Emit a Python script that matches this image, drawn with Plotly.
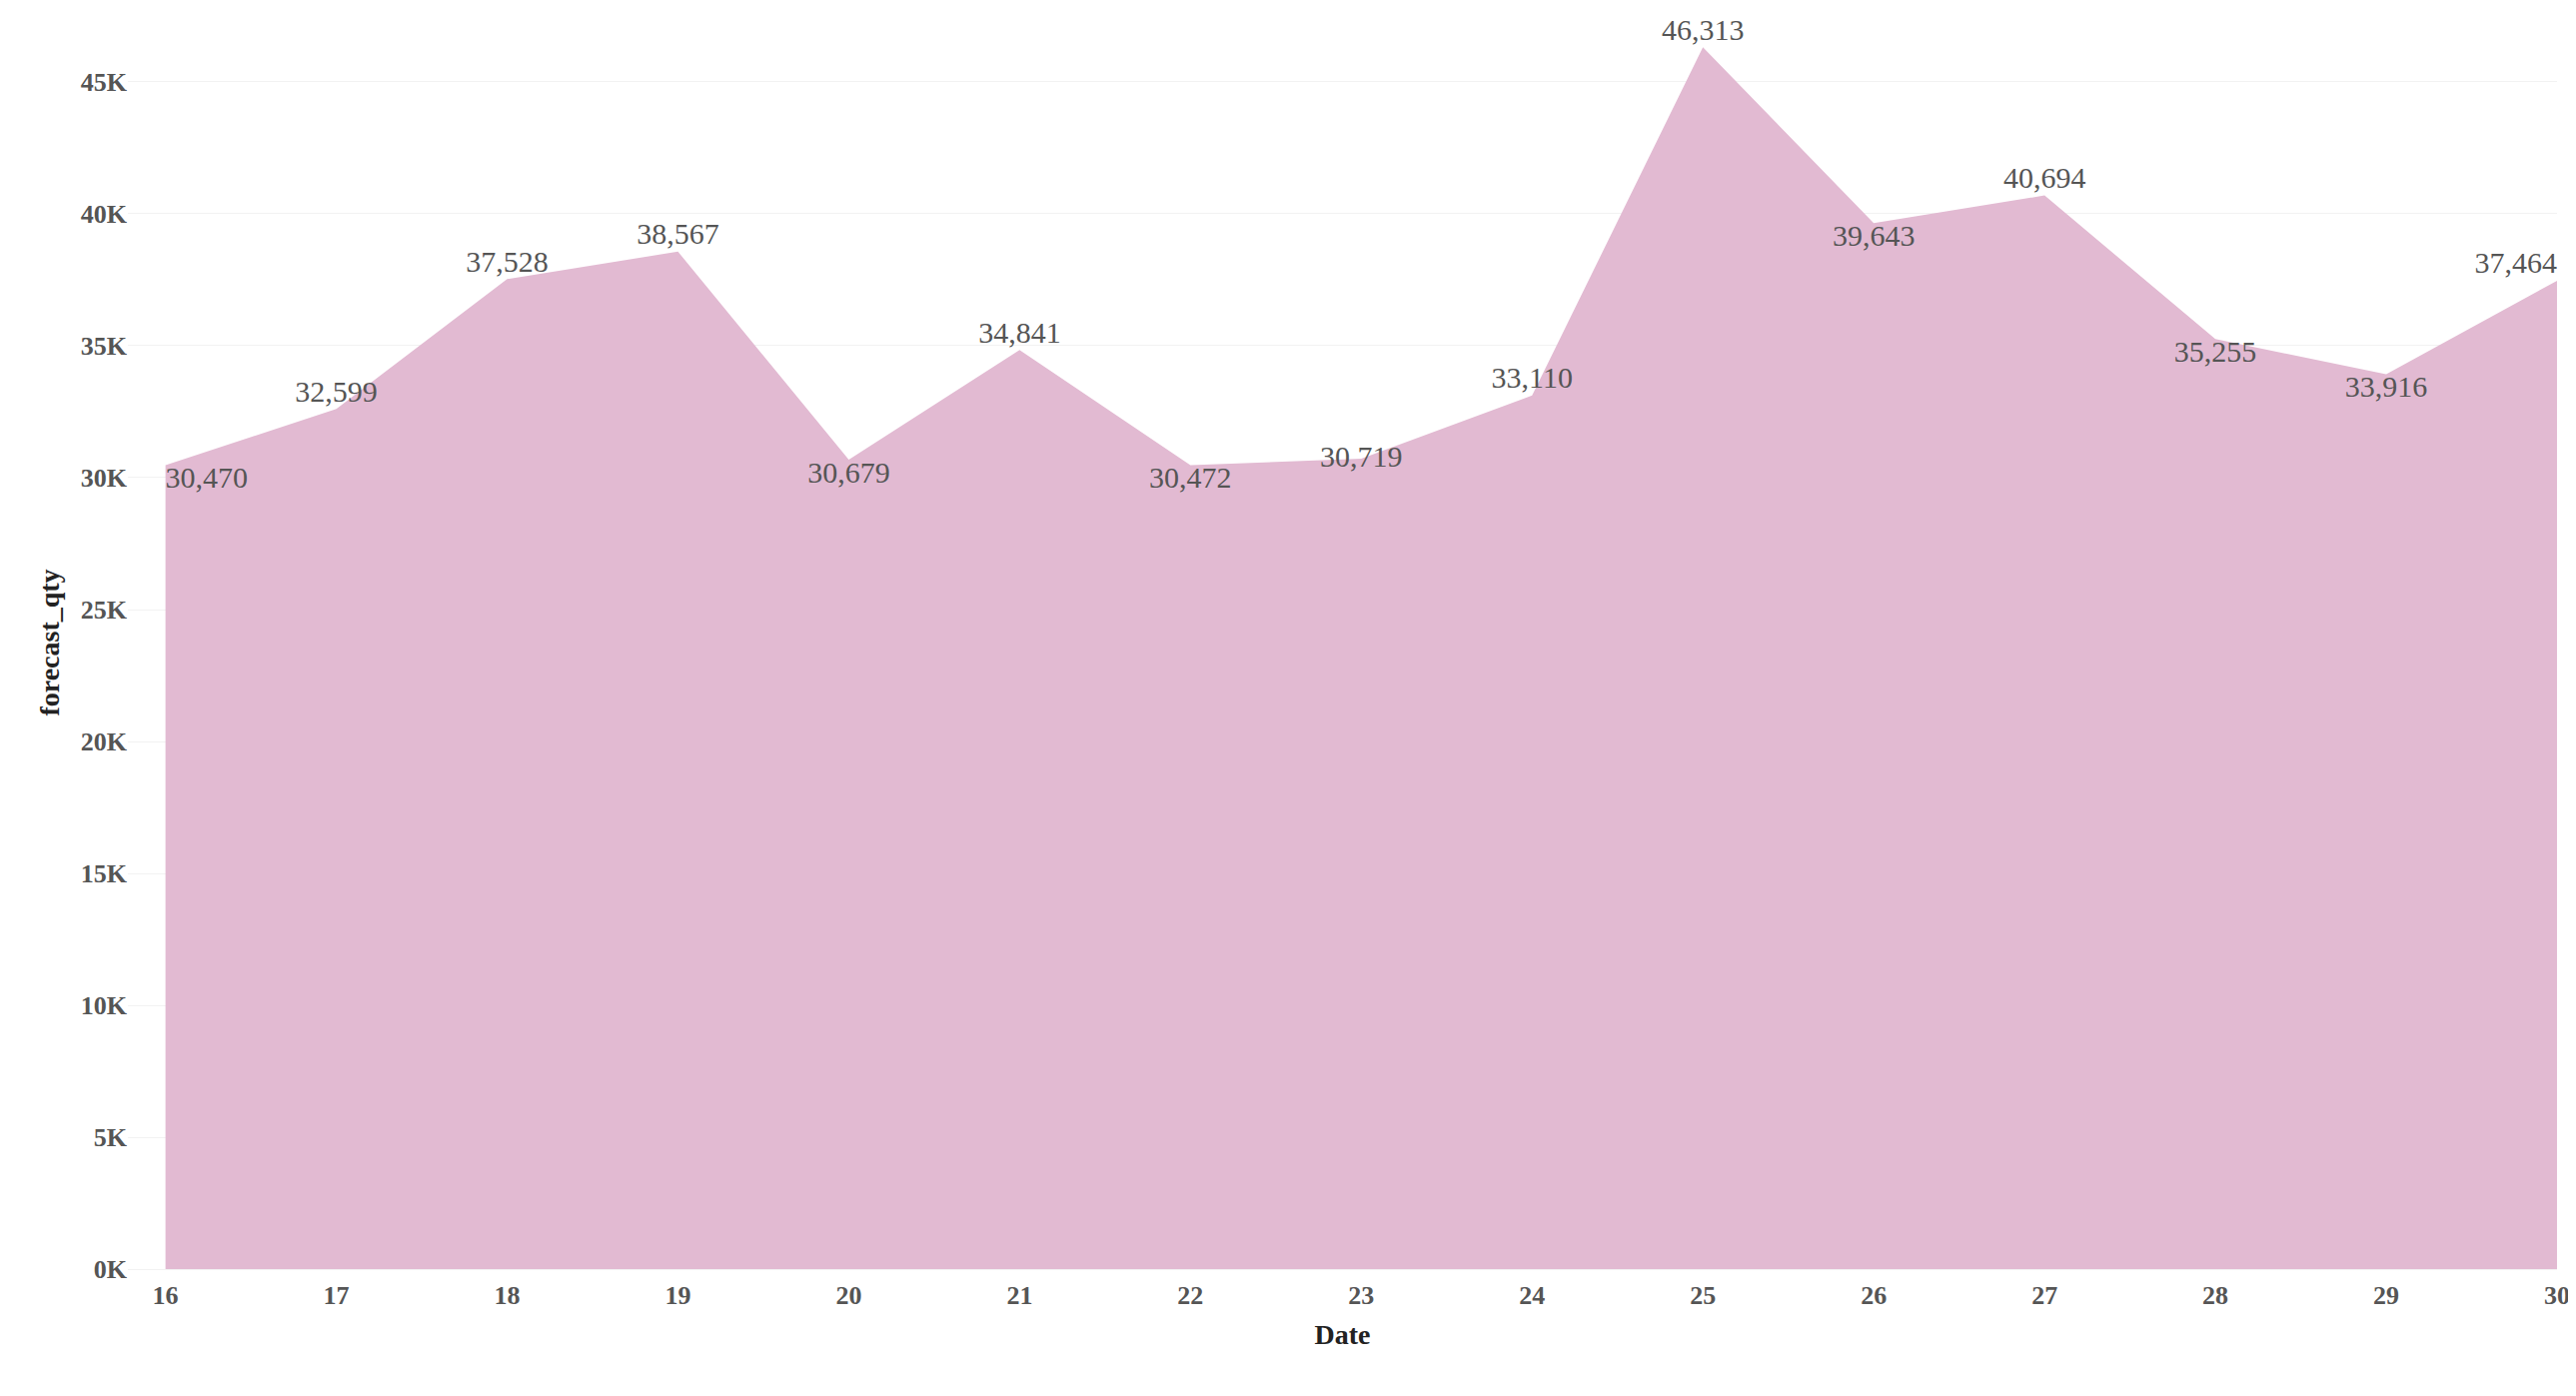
import plotly.graph_objects as go

dates = [16, 17, 18, 19, 20, 21, 22, 23, 24, 25, 26, 27, 28, 29, 30]
forecast_qty = [30470, 32599, 37528, 38567, 30679, 34841, 30472, 30719, 33110,
                46313, 39643, 40694, 35255, 33916, 37464]
label_pos = ["bottom right", "top center", "top center", "top center", "bottom center",
             "top center", "bottom center", "middle center", "top center", "top center",
             "bottom center", "top center", "bottom center", "bottom center", "top left"]
y_ticks = [0, 5000, 10000, 15000, 20000, 25000, 30000, 35000, 40000, 45000]
y_tick_text = ["0K", "5K", "10K", "15K", "20K", "25K", "30K", "35K", "40K", "45K"]

fig = go.Figure(go.Scatter(
    x=dates, y=forecast_qty, mode="lines+text", fill="tozeroy",
    fillcolor="#e2bad2", line=dict(color="#e2bad2", width=0),
    text=[f"{v:,}" for v in forecast_qty], textposition=label_pos,
    textfont=dict(family="Liberation Serif", size=30, color="#555555"),
    cliponaxis=False,
))
fig.update_layout(
    width=2578, height=1397, margin=dict(l=120, r=27, t=0, b=127),
    plot_bgcolor="white", paper_bgcolor="white", showlegend=False,
    font=dict(family="Liberation Serif", color="#555555"),
    xaxis=dict(range=[15.78, 30], tickvals=dates, showgrid=False, zeroline=False,
               tickfont=dict(size=26, family="Liberation Serif", weight="bold"),
               title=dict(text="<b>Date</b>", font=dict(size=28, color="#222")), ticklen=0),
    yaxis=dict(range=[-300, 47800], tickvals=y_ticks, ticktext=y_tick_text,
               gridcolor="#f2f2f2", zeroline=False,
               tickfont=dict(size=26, family="Liberation Serif", weight="bold"),
               title=dict(text="<b>forecast_qty</b>", font=dict(size=28, color="#222"), standoff=12)),
)
fig.write_html("out.html")
